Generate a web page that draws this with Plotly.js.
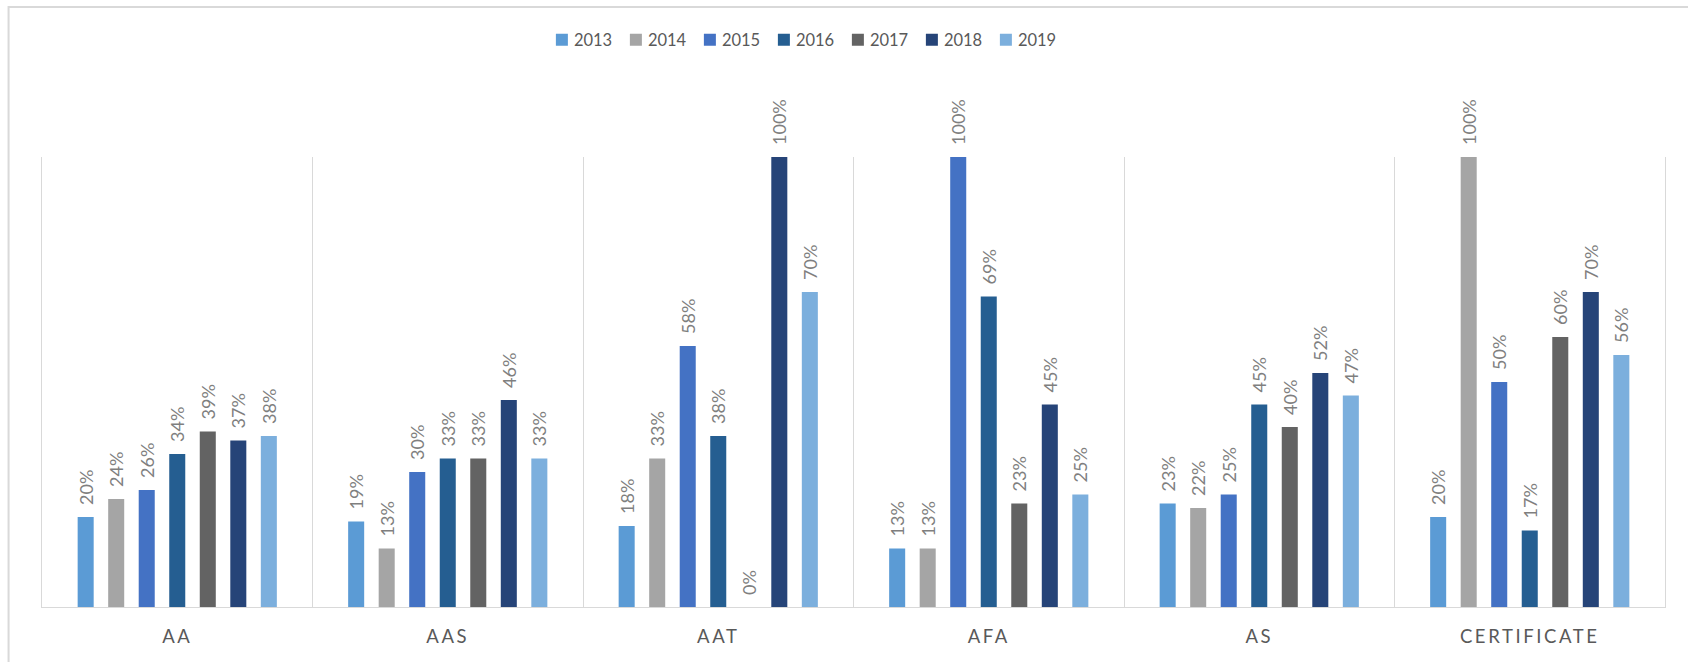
<!DOCTYPE html>
<html>
<head>
<meta charset="utf-8">
<script src="https://cdn.plot.ly/plotly-3.0.1.min.js"></script>
<style>
  html, body { margin: 0; padding: 0; background: #fff; overflow: hidden; }
  #chart { width: 1688px; height: 662px; }
  .xaxislayer-above .xtick text { letter-spacing: 2.6px; }
  g.legend text.legendtext { transform: translate(-8px, 0px) !important; }
</style>
</head>
<body>
<div id="chart"></div>
<script>
// Categories (degree types)
const categories = ["AA", "AAS", "AAT", "AFA", "AS", "CERTIFICATE"];

// Series (percent values per year)
const years = ["2013", "2014", "2015", "2016", "2017", "2018", "2019"];
const v2013 = [20, 19, 18, 13, 23, 20];
const v2014 = [24, 13, 33, 13, 22, 100];
const v2015 = [26, 30, 58, 100, 25, 50];
const v2016 = [34, 33, 38, 69, 45, 17];
const v2017 = [39, 33, 0, 23, 40, 60];
const v2018 = [37, 46, 100, 45, 52, 70];
const v2019 = [38, 33, 70, 25, 47, 56];
const seriesValues = [v2013, v2014, v2015, v2016, v2017, v2018, v2019];

const colors = ["#5B9BD5", "#A5A5A5", "#4472C4", "#255E91", "#636363", "#264478", "#7CAFDD"];

const FONT = "Lato, 'Open Sans', sans-serif";

const traces = years.map((yr, i) => ({
  type: "bar",
  name: yr,
  x: categories,
  y: seriesValues[i],
  marker: { color: colors[i], line: { width: 0 } },
  texttemplate: "\u2002%{y}%",
  textposition: "outside",
  textangle: -90,
  constraintext: "none",
  cliponaxis: false,
  textfont: { family: FONT, size: 18, color: "#7F7F7F" },
  hoverinfo: "x+y+name"
}));

const layout = {
  width: 1688,
  height: 662,
  margin: { l: 42, r: 23, t: 157, b: 55 },
  paper_bgcolor: "#ffffff",
  plot_bgcolor: "#ffffff",
  barmode: "group",
  bargap: 0.21,
  bargroupgap: 0.475,
  showlegend: true,
  legend: {
    orientation: "h",
    x: 0.308,
    xanchor: "left",
    y: 1.26,
    yanchor: "middle",
    entrywidth: 29,
    font: { family: FONT, size: 16.5, color: "#595959" },
    bgcolor: "rgba(0,0,0,0)"
  },
  xaxis: {
    type: "category",
    range: [-0.5, 5.5],
    tickson: "boundaries",
    showgrid: true,
    gridcolor: "#D9D9D9",
    gridwidth: 1,
    showline: true,
    linecolor: "#D9D9D9",
    linewidth: 1,
    ticks: "",
    ticklabelstandoff: 13,
    tickfont: { family: FONT, size: 18.5, color: "#595959" },
    fixedrange: true
  },
  yaxis: {
    range: [0, 100],
    showgrid: false,
    zeroline: false,
    showticklabels: false,
    showline: true,
    mirror: true,
    linecolor: "#D9D9D9",
    linewidth: 1,
    ticks: "",
    fixedrange: true
  },
  shapes: [{
    type: "path",
    xref: "paper", yref: "paper",
    path: "M -0.0206,-0.2 L -0.0206,1.3333 L 1.04,1.3333",
    line: { color: "#D9D9D9", width: 2 },
    layer: "below"
  }]
};

Plotly.newPlot("chart", traces, layout, { displayModeBar: false, staticPlot: true });
</script>
</body>
</html>
